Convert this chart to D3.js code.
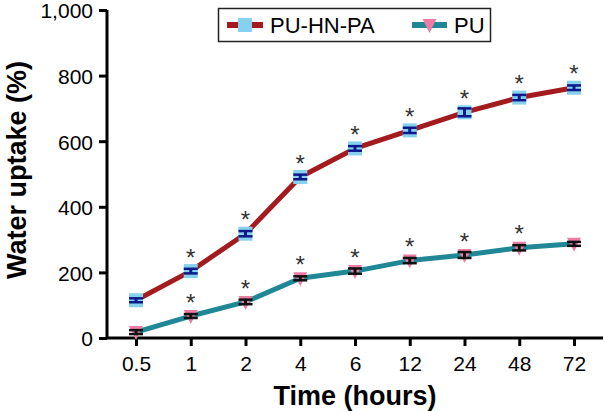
<!DOCTYPE html>
<html>
<head>
<meta charset="utf-8">
<script src="https://cdn.jsdelivr.net/npm/d3@7"></script>
<style>
  html, body { margin: 0; padding: 0; background: #fff; }
  svg { display: block; font-family: "Liberation Sans", Arial, sans-serif; }
</style>
</head>
<body>
<svg id="chart" width="605" height="411"></svg>
<script>
const categories = ["0.5", "1", "2", "4", "6", "12", "24", "48", "72"];
const seriesNames = ["PU-HN-PA", "PU"];
const puhnpaValues = [115, 204, 318, 491, 578, 633, 688, 733, 763];
const puhnpaErrors = [6, 7, 8, 7, 7, 8, 12, 8, 7];
const puhnpaSignificant = [false, true, true, true, true, true, true, true, true];
const puValues = [18, 67, 110, 182, 204, 236, 253, 275, 287];
const puErrors = [6, 6, 7, 6, 8, 8, 9, 8, 6];
const puSignificant = [false, true, true, true, true, true, true, true, false];
const yTicks = [0, 200, 400, 600, 800, 1000];
const yTitle = "Water uptake (%)";
const xTitle = "Time (hours)";

const svg = d3.select("#chart");
const x = d3.scalePoint().domain(categories).range([107, 603]).padding(0.53);
const y = d3.scaleLinear().domain([0, 1000]).range([338, 10]);

const series = [
  { name: seriesNames[0], values: puhnpaValues, errors: puhnpaErrors, sig: puhnpaSignificant, line: "#a31b1f", fill: "#86d0f0", err: "#0b1a8a", shape: "square", starOffset: 19 },
  { name: seriesNames[1], values: puValues, errors: puErrors, sig: puSignificant, line: "#1f8796", fill: "#ec7ca4", err: "#111111", shape: "tri", starOffset: 19 }
];

// axes
const yAxis = d3.axisLeft(y).tickValues(yTicks).tickSize(8).tickPadding(6).tickFormat(d3.format(","));
const gy = svg.append("g").attr("transform", "translate(107,0)").call(yAxis);
const xAxis = d3.axisBottom(x).tickSize(8).tickPadding(10);
const gx = svg.append("g").attr("transform", "translate(0,338)").call(xAxis);
[gx, gy].forEach(g => {
  g.select(".domain").attr("stroke", "#000").attr("stroke-width", 3);
  g.selectAll(".tick line").attr("stroke", "#000").attr("stroke-width", 3);
  g.selectAll(".tick text").attr("fill", "#000").style("font-size", "21px").style("font-family", "'Liberation Sans', Arial, sans-serif");
});
gy.select(".domain").attr("d", "M0,10V338");
gx.select(".domain").attr("d", "M107,0H603");
gy.selectAll(".tick text").attr("dy", "0.38em");

// titles
svg.append("text")
  .attr("transform", "translate(26,170) rotate(-90)")
  .attr("text-anchor", "middle")
  .style("font-size", "27px").style("font-weight", "bold")
  .text(yTitle);
svg.append("text")
  .attr("x", 355).attr("y", 405)
  .attr("text-anchor", "middle")
  .style("font-size", "27px").style("font-weight", "bold")
  .text(xTitle);

const lineGen = d3.line().x((d, i) => x(categories[i])).y(d => y(d));

function drawMarker(g, shape, cx, cy, fill) {
  if (shape === "square") {
    g.append("rect").attr("x", cx - 7).attr("y", cy - 7).attr("width", 14).attr("height", 14).attr("fill", fill);
  } else {
    g.append("path")
      .attr("d", `M${cx - 7},${cy - 6}L${cx + 7},${cy - 6}L${cx},${cy + 8}Z`)
      .attr("fill", fill);
  }
}

series.forEach(s => {
  svg.append("path")
    .datum(s.values)
    .attr("d", lineGen)
    .attr("fill", "none")
    .attr("stroke", s.line)
    .attr("stroke-width", 5)
    .attr("stroke-linejoin", "round");
  const g = svg.append("g");
  s.values.forEach((v, i) => {
    const cx = x(categories[i]);
    const cy = y(v);
    drawMarker(g, s.shape, cx, cy, s.fill);
    const top = y(v + s.errors[i]);
    const bot = y(v - s.errors[i]);
    g.append("line").attr("x1", cx).attr("x2", cx).attr("y1", top).attr("y2", bot).attr("stroke", s.err).attr("stroke-width", 3);
    g.append("line").attr("x1", cx - 7).attr("x2", cx + 7).attr("y1", top).attr("y2", top).attr("stroke", s.err).attr("stroke-width", 2.5);
    g.append("line").attr("x1", cx - 7).attr("x2", cx + 7).attr("y1", bot).attr("y2", bot).attr("stroke", s.err).attr("stroke-width", 2.5);
    if (s.sig[i]) {
      const fs = 24;
      g.append("text")
        .attr("x", cx).attr("y", cy - s.starOffset + 0.57 * fs)
        .attr("text-anchor", "middle")
        .attr("fill", "#333")
        .style("font-size", fs + "px")
        .text("*");
    }
  });
});

// legend
const lg = svg.append("g");
lg.append("rect").attr("x", 218.5).attr("y", 8.5).attr("width", 272).attr("height", 33)
  .attr("fill", "#fff").attr("stroke", "#222").attr("stroke-width", 1.5);
const legendItems = [
  { s: series[0], x0: 227, x1: 263, tx: 270 },
  { s: series[1], x0: 412, x1: 447, tx: 454 }
];
legendItems.forEach(it => {
  const cy = 25;
  lg.append("line").attr("x1", it.x0).attr("x2", it.x1).attr("y1", cy).attr("y2", cy)
    .attr("stroke", it.s.line).attr("stroke-width", 6);
  drawMarker(lg, it.s.shape, (it.x0 + it.x1) / 2, cy, it.s.fill);
  lg.append("text").attr("x", it.tx).attr("y", cy + 8)
    .style("font-size", "22px").attr("fill", "#000").text(it.s.name);
});
</script>
</body>
</html>
